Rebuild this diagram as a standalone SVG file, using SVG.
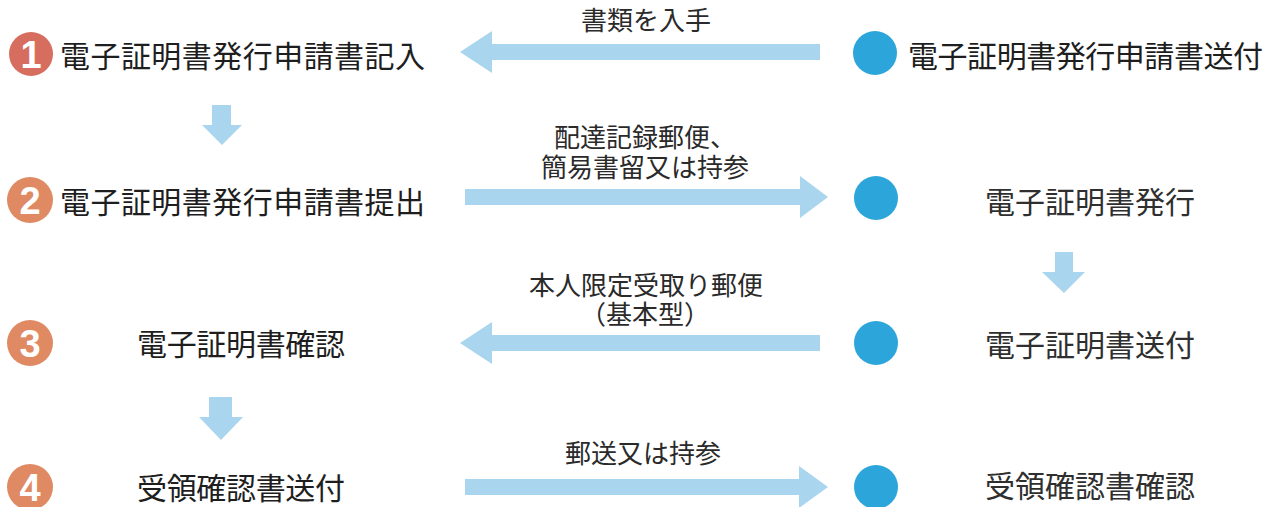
<svg xmlns="http://www.w3.org/2000/svg" width="1284" height="507" viewBox="0 0 1284 507">
<defs>
<style>
.t{font-family:"Noto Sans CJK JP","Noto Sans",sans-serif;font-size:30px;fill:#1e1e1e;dominant-baseline:central}
.r{fill:#2f2f2f;text-anchor:middle}
.lbl{font-family:"Noto Sans CJK JP","Noto Sans",sans-serif;font-size:26px;fill:#2a2a2a;text-anchor:middle}
.arr{fill:#a9d5ee}
.dot{fill:#2ca5da}
.b1{fill:#d76d5e}
.b{fill:#df8a62}
.num{font-family:"Liberation Sans",Arial,sans-serif;font-weight:bold;font-size:38px;fill:#ffffff;text-anchor:middle;dominant-baseline:central}
</style>
</defs>
<rect width="1284" height="507" fill="#ffffff"/>
<g id="connectors">
<polygon class="arr" points="460,52 492,31 492,44 820,44 820,60 492,60 492,73"/>
<polygon class="arr" points="465,189 800,189 800,176 828,197 800,218 800,205 465,205"/>
<polygon class="arr" points="460,343 492,322 492,335 820,335 820,351 492,351 492,364"/>
<polygon class="arr" points="465,479 799,479 799,466 828,487 799,508 799,495 465,495"/>
<polygon class="arr" points="212,105 231,105 231,125 242,125 222,145 202,125 212,125"/>
<polygon class="arr" points="209,397 232,397 232,417 243,417 221,440 199,417 209,417"/>
<polygon class="arr" points="1055,252 1073,252 1073,272 1085,272 1064,293 1042,272 1055,272"/>
<text class="lbl" x="646" y="30">書類を入手</text>
<text class="lbl" x="645" y="147"><tspan x="645" y="147">配達記録郵便、</tspan><tspan x="645" y="177">簡易書留又は持参</tspan></text>
<text class="lbl" x="646" y="295"><tspan x="646" y="295">本人限定受取り郵便</tspan><tspan x="645" y="324">（基本型）</tspan></text>
<text class="lbl" x="643" y="463">郵送又は持参</text>
</g>
<g id="step1">
<circle class="b1" cx="31" cy="54" r="22"/>
<text class="num" x="31" y="55">1</text>
<text class="t" x="60" y="54" textLength="365" lengthAdjust="spacing">電子証明書発行申請書記入</text>
</g>
<g id="step2">
<circle class="b" cx="30" cy="200" r="23"/>
<text class="num" x="30" y="201">2</text>
<text class="t" x="60" y="200" textLength="365" lengthAdjust="spacing">電子証明書発行申請書提出</text>
</g>
<g id="step3">
<circle class="b" cx="30" cy="343" r="23"/>
<text class="num" x="30" y="344">3</text>
<text class="t" x="137" y="342" textLength="208" lengthAdjust="spacing">電子証明書確認</text>
</g>
<g id="step4">
<circle class="b" cx="30" cy="487" r="23"/>
<text class="num" x="30" y="488">4</text>
<text class="t" x="137" y="486" textLength="208" lengthAdjust="spacing">受領確認書送付</text>
</g>
<g id="right1">
<circle class="dot" cx="875" cy="53" r="22"/>
<text class="t" x="908" y="54" fill="#2f2f2f" textLength="355" lengthAdjust="spacing">電子証明書発行申請書送付</text>
</g>
<g id="right2">
<circle class="dot" cx="876" cy="198" r="22"/>
<text class="t r" x="1090" y="200">電子証明書発行</text>
</g>
<g id="right3">
<circle class="dot" cx="876" cy="343" r="22"/>
<text class="t r" x="1090" y="343">電子証明書送付</text>
</g>
<g id="right4">
<circle class="dot" cx="876" cy="487" r="22"/>
<text class="t r" x="1090" y="484">受領確認書確認</text>
</g>
</svg>
